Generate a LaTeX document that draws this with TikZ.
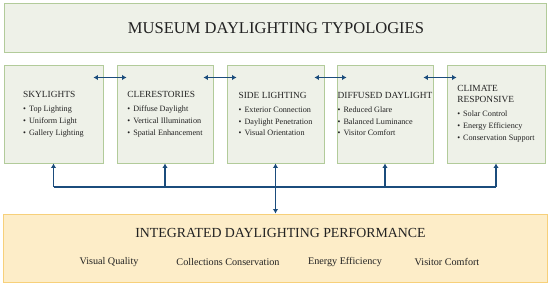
\documentclass[tikz,border=0pt]{standalone}
\usepackage{fontspec}
\setmainfont{Liberation Serif}
\usetikzlibrary{arrows.meta,calc}
\definecolor{boxfill}{HTML}{EEF1E8}
\definecolor{boxline}{HTML}{B2CB9A}
\definecolor{perffill}{HTML}{FDEDC8}
\definecolor{perfline}{HTML}{F7D07A}
\definecolor{arrcol}{HTML}{1B4C7C}
\definecolor{txt}{HTML}{222222}
\newcommand\bul{\textbullet\hspace{3pt}}
\tikzset{
  gbox/.style={draw=boxline,fill=boxfill,line width=1pt,inner sep=0pt},
  ybox/.style={draw=perfline,fill=perffill,line width=1pt,inner sep=0pt},
  content/.style={align=left,text=txt,font=\fontsize{8.2}{12}\selectfont,inner sep=0pt},
  arr/.style={draw=arrcol,line width=1.2pt,-{Latex[length=4.5pt,width=5.5pt]}},
  darr/.style={draw=arrcol,line width=1.2pt,{Latex[length=4.5pt,width=5.5pt]}-{Latex[length=4.5pt,width=5.5pt]}},
  bus/.style={draw=arrcol,line width=1.2pt},
  item/.style={text=txt,font=\fontsize{10.2}{12}\selectfont}
}
\newcommand\hdg[1]{{\fontsize{9.4}{11}\selectfont #1}}
\begin{document}
\begin{tikzpicture}[x=1bp,y=-1bp]
\useasboundingbox (0,0) rectangle (550,286);
% title
\draw[gbox] (4,3) rectangle (546,52);
\node[text=txt,font=\fontsize{16.6}{18}\selectfont] (title) at (276,28) {MUSEUM DAYLIGHTING TYPOLOGIES};
% boxes
\node[gbox,minimum width=99bp,minimum height=98bp] (b1) at (53.5,114) {};
\node[gbox,minimum width=96bp,minimum height=98bp] (b2) at (165,114) {};
\node[gbox,minimum width=97bp,minimum height=98bp] (b3) at (275.5,114) {};
\node[gbox,minimum width=96bp,minimum height=98bp] (b4) at (385,114) {};
\node[gbox,minimum width=98bp,minimum height=98bp] (b5) at (496,114) {};
\node[content] (t1) at (b1.center) {\hdg{SKYLIGHTS}\\[2pt]\bul Top Lighting\\\bul Uniform Light\\\bul Gallery Lighting};
\node[content] (t2) at (b2.center) {\hdg{CLERESTORIES}\\[2pt]\bul Diffuse Daylight\\\bul Vertical Illumination\\\bul Spatial Enhancement};
\node[content] (t3) at (b3.center) {\hdg{SIDE LIGHTING}\\[2pt]\bul Exterior Connection\\\bul Daylight Penetration\\\bul Visual Orientation};
\node[content] (t4) at (b4.center) {\hdg{DIFFUSED DAYLIGHT}\\[2pt]\bul Reduced Glare\\\bul Balanced Luminance\\\bul Visitor Comfort};
\node[content] (t5) at ($(b5.center)+(0,-0.5)$) {\hdg{CLIMATE}\\[-0.5pt]\hdg{RESPONSIVE}\\[2pt]\bul Solar Control\\\bul Energy Efficiency\\\bul Conservation Support};
% horizontal arrows
\foreach \a/\b in {b1/b2,b2/b3,b3/b4,b4/b5}{
  \draw[darr] ($(\a.north east)+(-10,13)$) -- ($(\b.north west)+(10,13)$);
}
% performance box
\node[ybox,minimum width=544bp,minimum height=68bp] (perf) at (275.5,248) {};
\node[text=txt,font=\fontsize{13.9}{16}\selectfont] (ptitle) at (280.5,233) {INTEGRATED DAYLIGHTING PERFORMANCE};
\node[item] (p1) at (109,262) {Visual Quality};
\node[item] (p2) at (228,262) {Collections Conservation};
\node[item] (p3) at (345,262) {Energy Efficiency};
\node[item] (p4) at (447,262) {Visitor Comfort};
% bus
\coordinate (busy) at (0,187);
\draw[bus] (b1.south |- busy) -- (b5.south |- busy);
\foreach \b in {b1,b2,b4,b5}{
  \draw[arr] (\b.south |- busy) -- (\b.south);
}
\draw[darr] (perf.north -| b3.south) -- (b3.south);
\end{tikzpicture}
\end{document}
